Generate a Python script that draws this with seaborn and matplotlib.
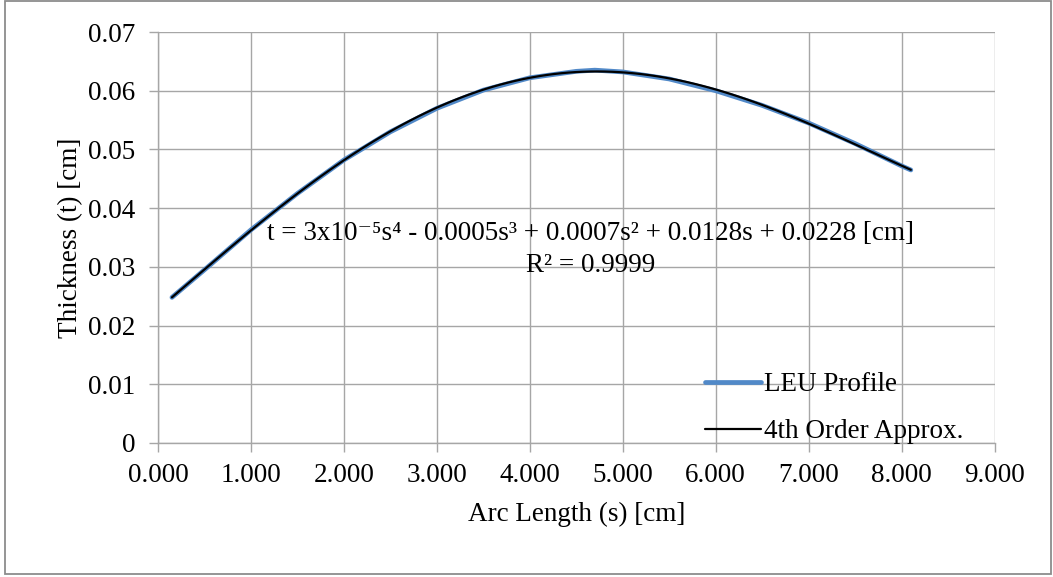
import matplotlib
matplotlib.use("Agg")
import matplotlib.pyplot as plt
import seaborn as sns
import pandas as pd
from matplotlib.patches import Rectangle

# ---- data ----
arc_length = [0.15, 0.5, 1.0, 1.5, 2.0, 2.5, 3.0, 3.5, 4.0, 4.5, 4.7, 5.0, 5.5, 6.0, 6.5, 7.0, 7.5, 8.0, 8.1]
thickness = [0.0248, 0.0295, 0.0363, 0.0425, 0.0482, 0.0530, 0.0570, 0.0601, 0.0622, 0.0633, 0.0635,
             0.0632, 0.0620, 0.0600, 0.0575, 0.0545, 0.0510, 0.0472, 0.0465]
x_ticks = [0, 1, 2, 3, 4, 5, 6, 7, 8, 9]
y_ticks = [0, 0.01, 0.02, 0.03, 0.04, 0.05, 0.06, 0.07]
series_names = ["LEU Profile", "4th Order Approx."]
eq_text = "t = 3x10\u207b\u2075s\u2074 - 0.0005s\u00b3 + 0.0007s\u00b2 + 0.0128s + 0.0228 [cm]"
r2_text = "R\u00b2 = 0.9999"
x_label = "Arc Length (s) [cm]"
y_label = "Thickness (t) [cm]"

df = pd.DataFrame({"s": arc_length, "t": thickness})

sns.set_theme(style="white")
plt.rcParams["font.family"] = ["Liberation Serif", "DejaVu Serif"]

W, H = 1053, 577
fig = plt.figure(figsize=(W / 100, H / 100), dpi=100)
fig.patch.set_facecolor("white")

left, right, bottom, top = 158, 994.5, 443, 32
ax = fig.add_axes([left / W, 1 - bottom / H, (right - left) / W, (bottom - top) / H])

grid_col = "#A6A6A6"
FS = 19.5

sns.lineplot(data=df, x="s", y="t", ax=ax, color="#5189C8", linewidth=3.4,
             solid_capstyle="round", solid_joinstyle="round", sort=True, estimator=None)
leu_line = ax.lines[-1]
sns.regplot(data=df, x="s", y="t", ax=ax, order=4, ci=None, scatter=False,
            line_kws={"color": "black", "linewidth": 1.6})
fit_line = ax.lines[-1]
fit_line.set_zorder(leu_line.get_zorder() + 1)

ax.set_xlim(0, 9)
ax.set_ylim(0, 0.07)
ax.set_xticks(x_ticks)
ax.set_xticklabels([f"{v:.3f}" for v in x_ticks])
ax.set_yticks(y_ticks)
ax.set_yticklabels(["0"] + [f"{v:.2f}" for v in y_ticks[1:]])
ax.grid(True, color=grid_col, linewidth=1.0)
ax.set_axisbelow(True)
for side in ["top", "right"]:
    ax.spines[side].set_visible(False)
for side in ["left", "bottom"]:
    ax.spines[side].set_color(grid_col)
    ax.spines[side].set_linewidth(1.0)
ax.tick_params(axis="both", which="major", direction="out", color=grid_col, width=1.0,
               length=6.5, labelsize=FS, labelcolor="black", left=True, bottom=True)
ax.tick_params(axis="y", pad=10)
ax.tick_params(axis="x", pad=8)

ax.set_xlabel(x_label, fontsize=FS, color="black", labelpad=10)
ax.set_ylabel(y_label, fontsize=FS, color="black", labelpad=3)

ax.text(4.65, 0.0346, eq_text, fontsize=FS, ha="center", va="baseline", color="black")
ax.text(4.65, 0.0291, r2_text, fontsize=FS, ha="center", va="baseline", color="black")

leg = ax.legend([leu_line, fit_line], series_names,
                loc="upper left", bbox_to_anchor=(705 / W, 1 - 372 / H), bbox_transform=fig.transFigure,
                frameon=False, fontsize=FS, handlelength=2.07, handletextpad=0.12,
                labelspacing=0.82, borderpad=0, borderaxespad=0)
for t in leg.get_texts():
    t.set_color("black")

fig.add_artist(Rectangle((5 / W, 1 - 574 / H), (1051 - 5) / W, (574 - 1) / H, transform=fig.transFigure,
                         fill=False, edgecolor="#8C8C8C", linewidth=1.3))

fig.savefig("out.png", dpi=100, facecolor="white")
